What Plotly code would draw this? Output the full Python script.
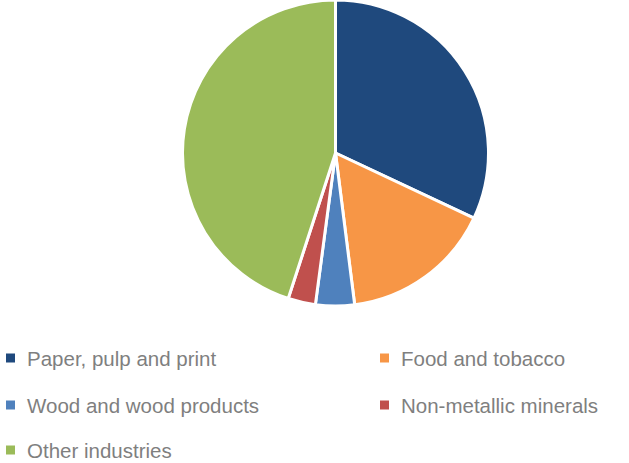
import plotly.graph_objects as go

# Share of consumption by industry (%)
labels = ["Paper, pulp and print", "Food and tobacco", "Wood and wood products",
          "Non-metallic minerals", "Other industries"]
values = [32.0, 16.0, 4.1, 2.9, 45.0]
colors = ["#1F497D", "#F79646", "#4F81BD", "#C0504D", "#9BBB59"]

W, H = 629, 463

fig = go.Figure(go.Pie(
    labels=labels,
    values=values,
    sort=False,
    direction="clockwise",
    rotation=0,
    marker=dict(colors=colors, line=dict(color="white", width=3)),
    textinfo="none",
    hoverinfo="label+percent",
    domain=dict(x=[(335.5 - 153) / W, (335.5 + 153) / W], y=[1 - 306 / H, 1]),
    showlegend=False,
))

# Two-column legend drawn below the pie
col_x = [6, 380]
row_y = [358, 405, 450]
shapes, annotations = [], []
for i, (lab, col) in enumerate(zip(labels, colors)):
    cx = col_x[i % 2]
    cy = row_y[i // 2]
    shapes.append(dict(type="rect", xref="paper", yref="paper",
                       x0=cx / W, x1=(cx + 9) / W,
                       y0=1 - (cy + 4.5) / H, y1=1 - (cy - 4.5) / H,
                       fillcolor=col, line=dict(width=0)))
    annotations.append(dict(text=lab, xref="paper", yref="paper",
                            x=(cx + 19) / W, y=1 - cy / H,
                            xanchor="left", yanchor="middle", showarrow=False,
                            font=dict(family="Liberation Sans Narrow, Liberation Sans, Arial, sans-serif",
                                      size=20.5, color="#7F7F7F")))

fig.update_layout(
    width=W, height=H,
    margin=dict(l=0, r=0, t=0, b=0),
    paper_bgcolor="white",
    plot_bgcolor="white",
    shapes=shapes,
    annotations=annotations,
)

fig.write_html("out.html")
